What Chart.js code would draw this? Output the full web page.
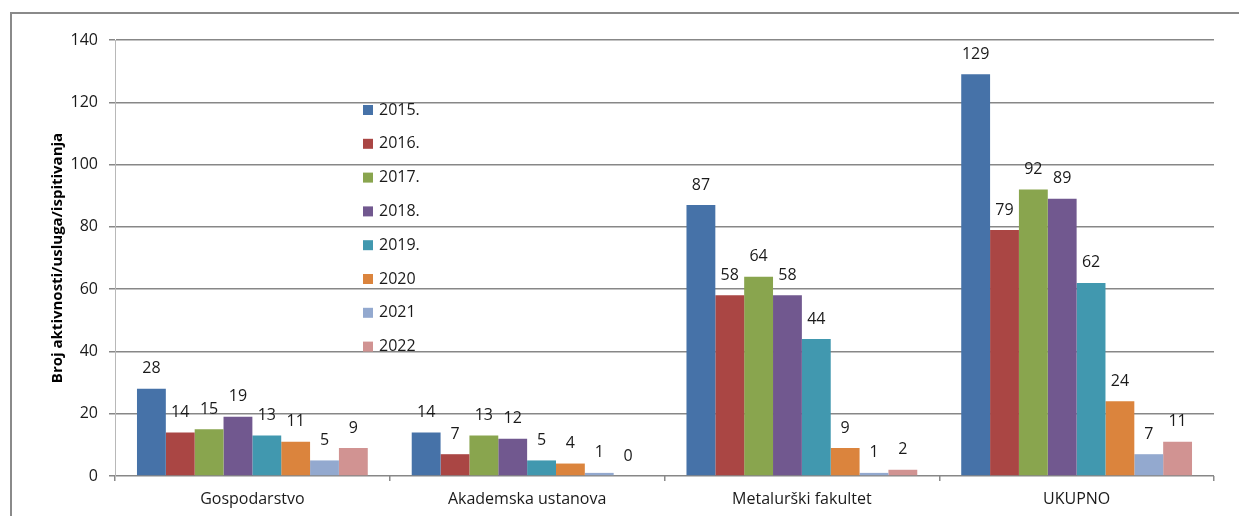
<!DOCTYPE html>
<html>
<head>
<meta charset="utf-8">
<script src="https://cdn.jsdelivr.net/npm/chart.js@4.4.1/dist/chart.umd.min.js"></script>
<style>
  html, body { margin: 0; padding: 0; background: #fff; overflow: hidden; }
  #chart { display: block; }
</style>
</head>
<body>
<canvas id="chart" width="1239" height="516"></canvas>
<script>
// Activities / services / tests per institution and year
const categories = ['Gospodarstvo', 'Akademska ustanova', 'Metalurški fakultet', 'UKUPNO'];
const years = ['2015.', '2016.', '2017.', '2018.', '2019.', '2020', '2021', '2022'];

const v2015 = [28, 14, 87, 129];
const v2016 = [14, 7, 58, 79];
const v2017 = [15, 13, 64, 92];
const v2018 = [19, 12, 58, 89];
const v2019 = [13, 5, 44, 62];
const v2020 = [11, 4, 9, 24];
const v2021 = [5, 1, 1, 7];
const v2022 = [9, 0, 2, 11];

const yTicks = [0, 20, 40, 60, 80, 100, 120, 140];
const yTitle = 'Broj aktivnosti/usluga/ispitivanja';

const seriesColors = ['#4672a8', '#aa4644', '#89a54e', '#71588f', '#4198af', '#db843d', '#93a9cf', '#d19392'];
const FONT = '"Open Sans", Lato, sans-serif';

const seriesValues = [v2015, v2016, v2017, v2018, v2019, v2020, v2021, v2022];

// value labels above every bar
const valueLabels = {
  id: 'valueLabels',
  afterDatasetsDraw(chart) {
    const ctx = chart.ctx;
    ctx.save();
    ctx.font = '16px ' + FONT;
    ctx.fillStyle = '#1a1a1a';
    ctx.textAlign = 'center';
    ctx.textBaseline = 'middle';
    chart.data.datasets.forEach((ds, i) => {
      chart.getDatasetMeta(i).data.forEach((bar, j) => {
        ctx.fillText(String(ds.data[j]), bar.x, bar.y - 20);
      });
    });
    ctx.restore();
  }
};

// legend column sitting inside the plot, plus the outer frame
const sideLegend = {
  id: 'sideLegend',
  beforeDraw(chart) {
    const ctx = chart.ctx;
    ctx.save();
    ctx.strokeStyle = '#8a8a8a';
    ctx.lineWidth = 2;
    ctx.beginPath();
    ctx.moveTo(11, 600);
    ctx.lineTo(11, 13);
    ctx.lineTo(1300, 13);
    ctx.stroke();
    ctx.restore();
  },
  afterDraw(chart) {
    const ctx = chart.ctx;
    ctx.save();
    ctx.font = '16px ' + FONT;
    ctx.textAlign = 'left';
    ctx.textBaseline = 'middle';
    chart.data.datasets.forEach((ds, i) => {
      const y = 110 + i * 33.8;
      ctx.fillStyle = ds.backgroundColor;
      ctx.fillRect(363, y - 5, 10, 10);
      ctx.fillStyle = '#1a1a1a';
      ctx.fillText(ds.label, 379, y);
    });
    ctx.restore();
  }
};

new Chart(document.getElementById('chart'), {
  type: 'bar',
  data: {
    labels: categories,
    datasets: years.map((label, i) => ({
      label,
      data: seriesValues[i],
      backgroundColor: seriesColors[i],
      borderWidth: 0,
      categoryPercentage: 0.84,
      barPercentage: 1.0
    }))
  },
  options: {
    responsive: false,
    devicePixelRatio: 1,
    animation: false,
    layout: { padding: { top: 40, right: 25, bottom: 0, left: 0 } },
    plugins: {
      legend: { display: false },
      tooltip: { enabled: false }
    },
    scales: {
      x: {
        grid: {
          drawOnChartArea: false,
          drawTicks: true,
          tickLength: 5,
          color: '#8a8a8a',
          lineWidth: 1.5
        },
        border: { display: false },
        ticks: {
          color: '#1a1a1a',
          font: { family: FONT, size: 16 },
          padding: 9,
          maxRotation: 0
        },
        afterFit(scale) { scale.height = 40; }
      },
      y: {
        min: 0,
        max: 140,
        afterBuildTicks(scale) { scale.ticks = yTicks.map(v => ({ value: v })); },
        grid: {
          color: '#878787',
          lineWidth: 1.5,
          tickLength: 6
        },
        border: { color: '#b8b8b8', width: 1 },
        ticks: {
          color: '#1a1a1a',
          font: { family: FONT, size: 16 },
          padding: 11
        },
        title: {
          display: true,
          text: yTitle,
          color: '#000',
          font: { family: FONT, size: 15, weight: 'bold' },
          padding: { top: 49, bottom: 0 }
        },
        afterFit(scale) { scale.width = 115; }
      }
    }
  },
  plugins: [valueLabels, sideLegend]
});
</script>
</body>
</html>
